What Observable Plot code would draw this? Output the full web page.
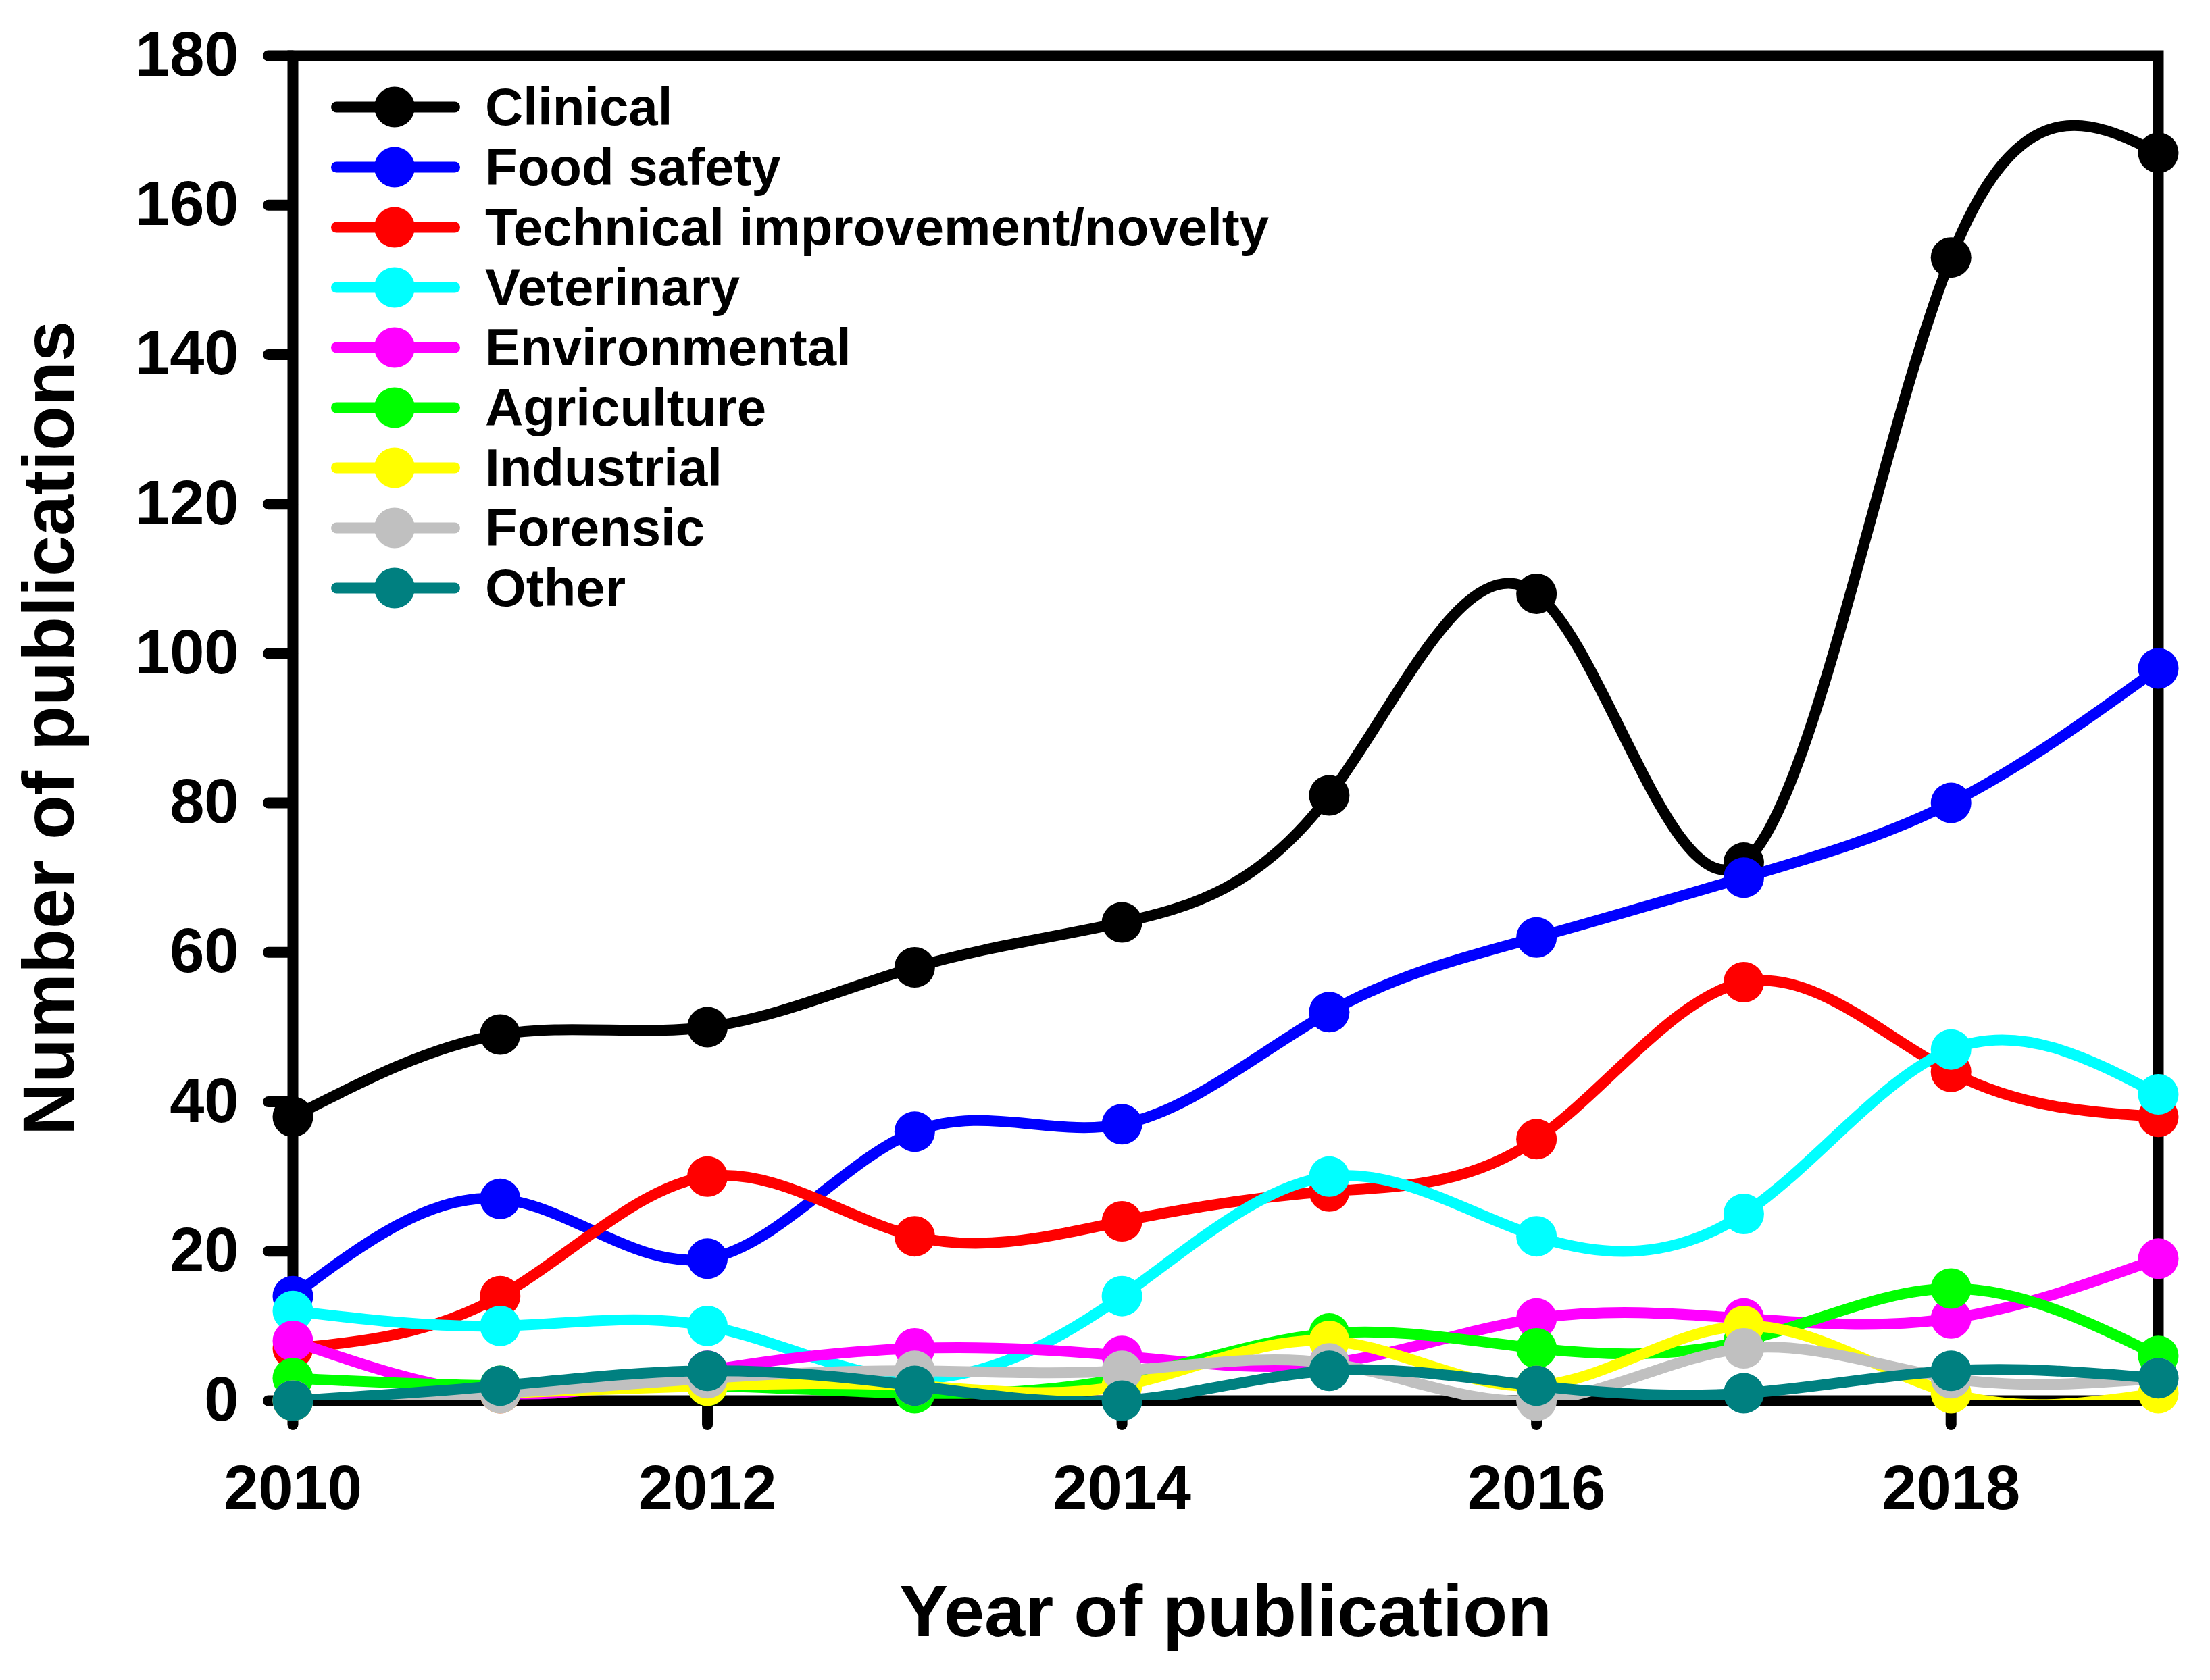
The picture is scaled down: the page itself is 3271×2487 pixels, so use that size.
<!DOCTYPE html>
<html>
<head>
<meta charset="utf-8">
<script src="https://cdn.jsdelivr.net/npm/d3@7"></script>
<script src="https://cdn.jsdelivr.net/npm/@observablehq/plot@0.6"></script>
<style>
  body { margin: 0; background: #ffffff; }
  #chart { position: relative; width: 3271px; height: 2487px; font-family: "Liberation Sans", Arial, sans-serif; font-weight: bold; background: #fff; }
  #legend { position: absolute; left: 490px; top: 114px; }
  .row { display: flex; align-items: center; height: 89px; }
  .row svg { display: block; flex: none; }
  .row span { font-size: 78px; line-height: 89px; margin-left: 37px; color: #000; white-space: nowrap; }
</style>
</head>
<body>
<div id="chart"><div id="legend"></div></div>
<script>
// ---- data ----
const years = [2010, 2011, 2012, 2013, 2014, 2015, 2016, 2017, 2018, 2019];
const categories = ["Clinical", "Food safety", "Technical improvement/novelty", "Veterinary",
  "Environmental", "Agriculture", "Industrial", "Forensic", "Other"];
const colors = ["#000000", "#0000ff", "#ff0000", "#00ffff", "#ff00ff", "#00ff00", "#ffff00", "#c0c0c0", "#008080"];

const clinical      = [38, 49, 50, 58, 64, 81, 108, 72, 153, 167];
const foodSafety    = [14, 27, 19, 36, 37, 52, 62, 70, 80, 98];
const technical     = [7, 14, 30, 22, 24, 28, 35, 56, 44, 38];
const veterinary    = [12, 10, 10, 3, 14, 30, 22, 25, 47, 41];
const environmental = [8, 1, 4, 7, 6, 5, 11, 11, 11, 19];
const agriculture   = [3, 2, 2, 1, 3, 9, 7, 8, 15, 6];
const industrial    = [0, 1, 2, 2, 2, 8, 2, 10, 1, 1];
const forensic      = [0, 1, 3, 4, 4, 5, 0, 7, 3, 3];
const other         = [0, 2, 4, 2, 0, 4, 2, 1, 4, 3];

const yTicks = [0, 20, 40, 60, 80, 100, 120, 140, 160, 180];
const xTicks = [2010, 2012, 2014, 2016, 2018];
const xTitle = "Year of publication";
const yTitle = "Number of publications";

const seriesValues = [clinical, foodSafety, technical, veterinary, environmental, agriculture, industrial, forensic, other];

// ---- build per-series tables ----
const tables = categories.map((name, i) =>
  years.map((year, j) => ({ name, year, value: seriesValues[i][j] })));

const marks = [Plot.frame({ stroke: "#000", strokeWidth: 16 })];

marks.push(
  Plot.axisY({ ticks: yTicks, tickSize: 36, tickPadding: 44, strokeWidth: 16, strokeLinecap: "round",
    fontSize: 92, fontWeight: "bold", label: null, tickFormat: "d" }),
  Plot.axisX({ ticks: xTicks, tickSize: 36, tickPadding: 59, strokeWidth: 16, strokeLinecap: "round",
    fontSize: 92, fontWeight: "bold", label: null, tickFormat: "d" })
);

tables.forEach((t, i) => {
  marks.push(Plot.line(t, { x: "year", y: "value", stroke: colors[i], strokeWidth: 16,
    curve: "natural", clip: true }));
  marks.push(Plot.dot(t, { x: "year", y: "value", r: 30, fill: colors[i] }));
});

marks.push(
  Plot.text([xTitle], { frameAnchor: "bottom", dy: 314, fontSize: 108, fontWeight: "bold",
    textAnchor: "middle", lineAnchor: "middle", fill: "#000" }),
  Plot.text([yTitle], { frameAnchor: "left", dx: -359, rotate: -90, fontSize: 108, fontWeight: "bold",
    textAnchor: "middle", lineAnchor: "middle", fill: "#000" })
);

const chart = Plot.plot({
  width: 3271,
  height: 2487,
  marginLeft: 433,
  marginRight: 77,
  marginTop: 82,
  marginBottom: 414,
  x: { domain: [2010, 2019] },
  y: { domain: [0, 180] },
  style: { fontFamily: "'Liberation Sans', Arial, sans-serif", fontWeight: "bold", background: "#fff", color: "#000" },
  marks
});
document.getElementById("chart").prepend(chart);

// ---- legend ----
const legend = d3.select("#legend");
categories.forEach((name, i) => {
  const row = legend.append("div").attr("class", "row");
  const svg = row.append("svg").attr("width", 191).attr("height", 89);
  svg.append("line").attr("x1", 8).attr("x2", 183).attr("y1", 44.5).attr("y2", 44.5)
    .attr("stroke", colors[i]).attr("stroke-width", 16).attr("stroke-linecap", "round");
  svg.append("circle").attr("cx", 94).attr("cy", 44.5).attr("r", 30).attr("fill", colors[i]);
  row.append("span").text(name);
});
</script>
</body>
</html>
